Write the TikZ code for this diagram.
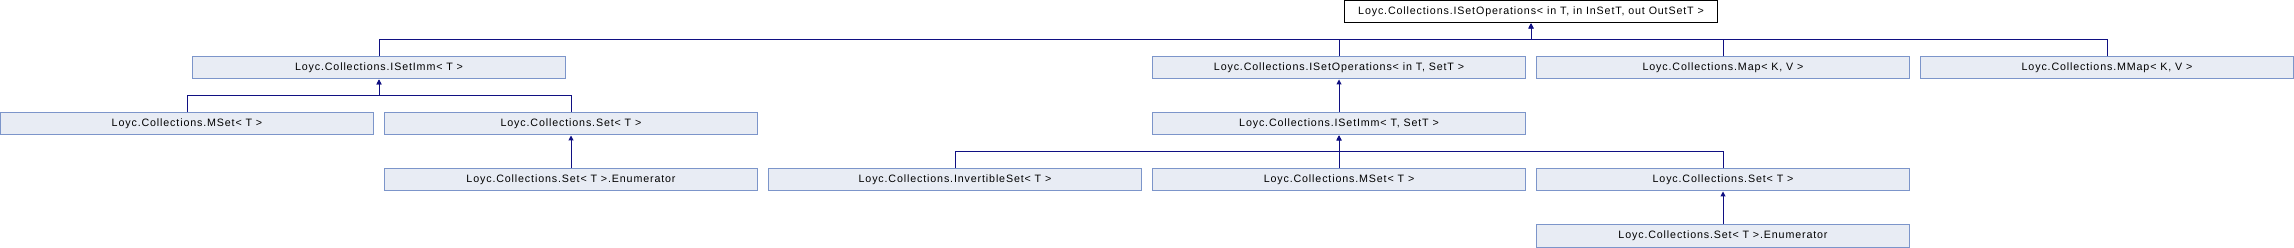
\documentclass[tikz,border=0pt]{standalone}
\usepackage{fontspec}
\setmainfont{Liberation Sans}[LetterSpace=8]
\usetikzlibrary{arrows.meta}
\definecolor{boxfill}{RGB}{232,236,244}
\definecolor{boxline}{RGB}{124,149,202}
\definecolor{edgecol}{RGB}{16,16,130}
\tikzset{
  cls/.style={draw=boxline, fill=boxfill, line width=1pt, minimum width=373pt, minimum height=22pt, inner sep=0pt, font=\fontsize{10.7pt}{12pt}\selectfont},
  rootcls/.style={cls, draw=black, fill=white},
  edge/.style={draw=edgecol, line width=1pt, -{Triangle[length=5pt,width=5pt]}}
}
\begin{document}
\begin{tikzpicture}[x=1pt,y=-1pt]
\useasboundingbox (0,0) rectangle (2294,248);
% row 1
\node[rootcls] (root) at (1531,12) {Loyc.Collections.ISetOperations< in T, in InSetT, out OutSetT >};
% row 2
\node[cls] (isetimmT) at (379,68) {Loyc.Collections.ISetImm< T >};
\node[cls] (isetops) at (1339,68) {Loyc.Collections.ISetOperations< in T, SetT >};
\node[cls] (map) at (1723,68) {Loyc.Collections.Map< K, V >};
\node[cls] (mmap) at (2107,68) {Loyc.Collections.MMap< K, V >};
% row 3
\node[cls] (mset1) at (187,124) {Loyc.Collections.MSet< T >};
\node[cls] (set1) at (571,124) {Loyc.Collections.Set< T >};
\node[cls] (isetimmTS) at (1339,124) {Loyc.Collections.ISetImm< T, SetT >};
% row 4
\node[cls] (enum1) at (571,180) {Loyc.Collections.Set< T >.Enumerator};
\node[cls] (invset) at (955,180) {Loyc.Collections.InvertibleSet< T >};
\node[cls] (mset2) at (1339,180) {Loyc.Collections.MSet< T >};
\node[cls] (set2) at (1723,180) {Loyc.Collections.Set< T >};
% row 5
\node[cls] (enum2) at (1723,236) {Loyc.Collections.Set< T >.Enumerator};
% bus coordinates
\coordinate (b1) at (0,40);
\coordinate (b2) at (0,96);
\coordinate (b3) at (0,152);
% edges
\foreach \c in {isetimmT,isetops,map,mmap}
  \draw[edge] (\c.north) -- (\c.north |- b1) -| (root.south);
\foreach \c in {mset1,set1}
  \draw[edge] (\c.north) -- (\c.north |- b2) -| (isetimmT.south);
\draw[edge] (isetimmTS.north) -- (isetops.south);
\draw[edge] (enum1.north) -- (set1.south);
\foreach \c in {invset,mset2,set2}
  \draw[edge] (\c.north) -- (\c.north |- b3) -| (isetimmTS.south);
\draw[edge] (enum2.north) -- (set2.south);
\end{tikzpicture}
\end{document}
